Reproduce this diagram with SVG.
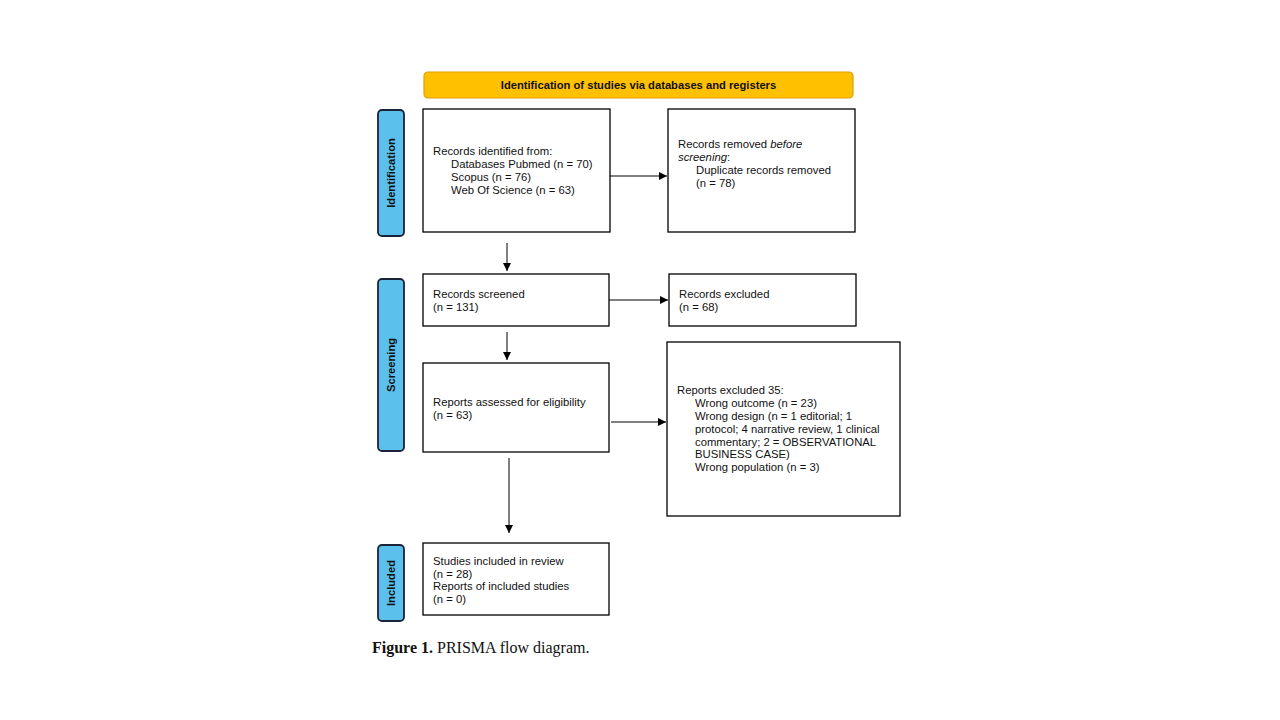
<svg xmlns="http://www.w3.org/2000/svg" width="1280" height="720" viewBox="0 0 1280 720">
<defs>
<style>
.box{fill:#fff;stroke:#000;stroke-width:1.3}
.side{fill:#5BC0EB;stroke:#1a2438;stroke-width:1.8}
.t{font-family:"Liberation Sans",Arial,sans-serif;font-size:11.3px;fill:#111}
.st{font-family:"Liberation Sans",Arial,sans-serif;font-size:11.2px;font-weight:bold;fill:#111}
.c{stroke:#000;stroke-width:1;fill:none;marker-end:url(#ah)}
</style>
<marker id="ah" viewBox="0 0 10 10" refX="10" refY="5" markerWidth="8" markerHeight="8" markerUnits="userSpaceOnUse" orient="auto">
<path d="M0,0 L10,5 L0,10 z" fill="#000"/>
</marker>
</defs>
<rect width="1280" height="720" fill="#fff"/>
<g id="header">
<rect x="424" y="72" width="429" height="26" rx="4" fill="#FFC000" stroke="#E0A000" stroke-width="1.2"/>
<text class="st" x="638.5" y="89" text-anchor="middle">Identification of studies via databases and registers</text>
</g>
<g id="side-identification">
<rect class="side" x="378" y="110" width="26" height="126" rx="4"/>
<text class="st" transform="translate(395,173) rotate(-90)" text-anchor="middle">Identification</text>
</g>
<g id="side-screening">
<rect class="side" x="378" y="279" width="26" height="172" rx="4"/>
<text class="st" transform="translate(395,365) rotate(-90)" text-anchor="middle">Screening</text>
</g>
<g id="side-included">
<rect class="side" x="378" y="545" width="26" height="76" rx="4"/>
<text class="st" transform="translate(395,583) rotate(-90)" text-anchor="middle">Included</text>
</g>
<g id="records-identified">
<rect class="box" x="423" y="109" width="187" height="123"/>
<text class="t" x="433" y="155">Records identified from:</text>
<text class="t" x="451" y="168">Databases Pubmed (n = 70)</text>
<text class="t" x="451" y="181">Scopus (n = 76)</text>
<text class="t" x="451" y="194">Web Of Science (n = 63)</text>
</g>
<g id="records-removed">
<rect class="box" x="668" y="109" width="187" height="123"/>
<text class="t" x="678" y="148">Records removed <tspan font-style="italic">before</tspan></text>
<text class="t" x="678" y="161"><tspan font-style="italic">screening</tspan>:</text>
<text class="t" x="696" y="174">Duplicate records removed</text>
<text class="t" x="696" y="187">(n = 78)</text>
</g>
<g id="records-screened">
<rect class="box" x="423" y="274" width="186" height="52"/>
<text class="t" x="433" y="298">Records screened</text>
<text class="t" x="433" y="311">(n = 131)</text>
</g>
<g id="records-excluded">
<rect class="box" x="669" y="274" width="187" height="52"/>
<text class="t" x="679" y="298">Records excluded</text>
<text class="t" x="679" y="311">(n = 68)</text>
</g>
<g id="reports-assessed">
<rect class="box" x="423" y="363" width="186" height="89"/>
<text class="t" x="433" y="406">Reports assessed for eligibility</text>
<text class="t" x="433" y="419">(n = 63)</text>
</g>
<g id="reports-excluded">
<rect class="box" x="667" y="342" width="233" height="174"/>
<text class="t" x="677" y="394">Reports excluded 35:</text>
<text class="t" x="695" y="407">Wrong outcome (n = 23)</text>
<text class="t" x="695" y="420">Wrong design (n = 1 editorial; 1</text>
<text class="t" x="695" y="433">protocol; 4 narrative review, 1 clinical</text>
<text class="t" x="695" y="446">commentary; 2 = OBSERVATIONAL</text>
<text class="t" x="695" y="458">BUSINESS CASE)</text>
<text class="t" x="695" y="471">Wrong population (n = 3)</text>
</g>
<g id="studies-included">
<rect class="box" x="423" y="543" width="186" height="72"/>
<text class="t" x="433" y="565">Studies included in review</text>
<text class="t" x="433" y="578">(n = 28)</text>
<text class="t" x="433" y="590">Reports of included studies</text>
<text class="t" x="433" y="603">(n = 0)</text>
</g>
<g id="connectors">
<line class="c" x1="610" y1="176" x2="667" y2="176"/>
<line class="c" x1="507" y1="243" x2="507" y2="271"/>
<line class="c" x1="609" y1="300" x2="668" y2="300"/>
<line class="c" x1="507" y1="332" x2="507" y2="360"/>
<line class="c" x1="611" y1="422" x2="666" y2="422"/>
<line class="c" x1="509" y1="458" x2="509" y2="533"/>
</g>
<g id="caption">
<text x="372" y="653" font-family="'Liberation Serif','Times New Roman',serif" font-size="16px" fill="#111"><tspan font-weight="bold">Figure 1.</tspan> PRISMA flow diagram.</text>
</g>
</svg>
